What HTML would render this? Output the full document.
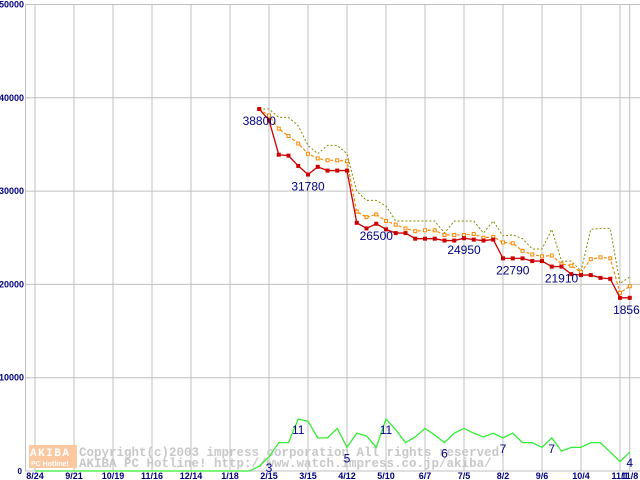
<!DOCTYPE html>
<html><head><meta charset="utf-8"><style>
html,body{margin:0;padding:0;background:#fff;width:640px;height:480px;overflow:hidden}
svg{display:block}
text{font-family:"Liberation Sans",sans-serif}
</style></head><body>
<svg id="chart" width="640" height="480" xmlns="http://www.w3.org/2000/svg"></svg>
<script>
const xLabels = ["8/24","9/21","10/19","11/16","12/14","1/18","2/15","3/15","4/12","5/10","6/7","7/5","8/2","9/6","10/4","11/1","11/8"];
const xLabelIdx = [0,4,8,12,16,20,24,28,32,36,40,44,48,52,56,60,61];
const yTicks = [0,10000,20000,30000,40000,50000];
const startIdx = 23;
const minPrice = [38800,37600,33900,33800,32700,31780,32600,32200,32200,32200,26600,26000,26500,25900,25500,25500,24900,24900,24900,24700,24700,24950,24800,24700,24800,22790,22790,22790,22500,22500,21910,21910,21100,21000,21000,20700,20600,18560,18560];
const avgPrice = [38800,38100,36700,35900,35100,34000,33500,33300,33300,33200,27800,27200,27500,26800,26400,26000,25700,25800,25800,25300,25300,25300,25400,25000,25100,24500,24400,23600,23200,23000,23100,22200,22000,21300,22700,22900,22800,19100,19800];
const maxPrice = [38800,38800,37900,37900,37000,34900,34000,34900,34900,34000,30000,29000,29000,28400,26800,26800,26800,26800,26800,25500,26800,26800,26800,25500,26800,25200,25300,24900,23800,23800,25900,22500,22500,21400,25900,26000,26000,20100,20800];
const shopCount = [0,0,0,0,0,0,0,0,0,0,0,0,0,0,0,0,0,0,0,0,0,0,0,1,3,6,6,11,10.5,7,7,9,5,8,7.4,5,11,8.7,6,7.2,9,7.6,6,8,9,8,7.2,8,7,8,6,6,5,7,4.2,5,5,6,6,4,2,4];
const priceLabelIdx = [23,28,35,44,49,54,61];
const countLabelIdx = [24,27,32,36,42,48,53,61];

const NS="http://www.w3.org/2000/svg";
const svg=document.getElementById('chart');
function X(i){return 35+9.75*i;}
function Y(v){return 471-v*(466.5/50000);}
function YC(c){return 471-c*4.73;}
function mk(tag,attrs,parent){const e=document.createElementNS(NS,tag);for(const k in attrs)e.setAttribute(k,attrs[k]);(parent||svg).appendChild(e);return e;}

const grid=mk('g',{});


mk('line',{x1:25.5,y1:4.5,x2:25.5,y2:471,stroke:'#c0c0c0','stroke-width':1},grid);
yTicks.forEach(v=>{
  const l=mk('line',{x1:25.5,y1:Y(v),x2:640,y2:Y(v),stroke:'#c0c0c0','stroke-width':1},grid);
  
  
  const t=mk('text',{x:v===0?22:24,y:Y(v)+3,'text-anchor':'end','font-size':v===0?8:9,'font-weight':'bold',fill:'#000080'});
  t.textContent=String(v);
  
  
});
xLabelIdx.forEach((idx,k)=>{
  const l=mk('line',{x1:X(idx),y1:4.5,x2:X(idx),y2:471,stroke:'#c0c0c0','stroke-width':1},grid);
  
  
  const t=mk('text',{x:X(idx),y:479,'text-anchor':'middle','font-size':9,'font-weight':'bold',fill:'#000080'});
  t.textContent=xLabels[k];
  
  
});

const MONO='font-family:"Liberation Mono",monospace';
const wm=mk('g',{});


mk('rect',{x:29,y:445,width:48,height:23,fill:'#fcc8a0'},wm);
const w1=mk('text',{x:30,y:456,'font-size':11,'font-weight':'bold',fill:'#fff',style:MONO,'letter-spacing':'1.5'},wm);w1.textContent='AKIBA';
const w2=mk('text',{x:31,y:466,'font-size':7,'font-weight':'bold',fill:'#fff'},wm);w2.textContent='PC Hotline!';
const w3=mk('text',{x:79,y:456,'font-size':12.5,'font-weight':'bold',fill:'#c8c8c8',style:MONO},wm);w3.textContent='Copyright(c)2003 impress corporation All rights reserved.';
const w4=mk('text',{x:79,y:467,'font-size':12.5,'font-weight':'bold',fill:'#c8c8c8',style:MONO},wm);w4.textContent='AKIBA PC Hotline!  http://www.watch.impress.co.jp/akiba/';

const cp=shopCount.map((c,i)=>X(i)+','+YC(c)).join(' ');
const cl=mk('polyline',{points:cp,fill:'none',stroke:'#33ee33','stroke-width':1.3});



function series(vals,color,dash,name,w){
  const pts=vals.map((v,k)=>X(startIdx+k)+','+Y(v)).join(' ');
  const p=mk('polyline',{points:pts,fill:'none',stroke:color,'stroke-width':w,'stroke-dasharray':dash});
  
  
}
series(maxPrice,'#8a8a00','2,2','max-price-line',1);
series(avgPrice,'#ff8800','3,2','avg-price-line',1.2);
avgPrice.forEach((v,k)=>{
  const r=mk('rect',{x:X(startIdx+k)-1.5,y:Y(v)-1.5,width:3,height:3,fill:'#fff',stroke:'#ff8800','stroke-width':1});
  
  
});
series(minPrice,'#cc0000','','min-price-line',1.3);
minPrice.forEach((v,k)=>{
  const r=mk('rect',{x:X(startIdx+k)-2,y:Y(v)-2,width:4,height:4,fill:'#cc0000'});
  
  
});
priceLabelIdx.forEach(idx=>{
  const v=minPrice[idx-startIdx];
  const t=mk('text',{x:X(idx),y:Y(v)+16,'text-anchor':'middle','font-size':12,fill:'#000080'});
  t.textContent=String(v);
  
  
});
countLabelIdx.forEach(idx=>{
  const c=shopCount[idx];
  const t=mk('text',{x:X(idx),y:YC(c)+15,'text-anchor':'middle','font-size':12,fill:'#000080'});
  t.textContent=String(Math.round(c));
  
  
});
</script>
</body></html>
